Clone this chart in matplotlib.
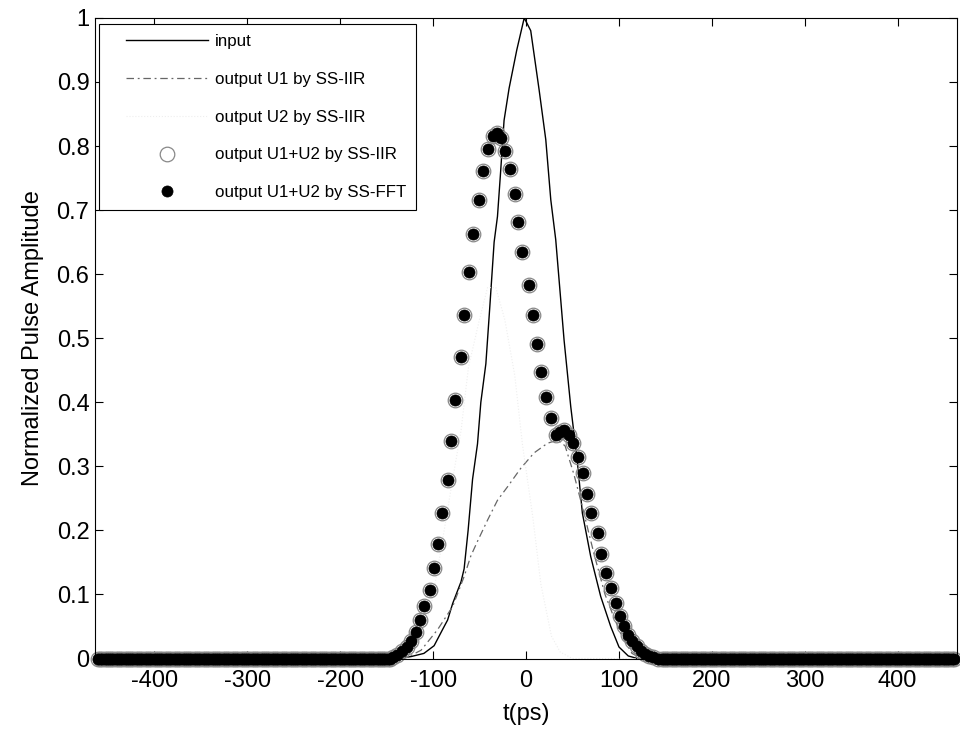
import matplotlib
matplotlib.use("Agg")
import matplotlib.pyplot as plt
from matplotlib.lines import Line2D
from matplotlib.legend_handler import HandlerLine2D
import numpy as np

plt.rcParams['font.family'] = ['Liberation Sans', 'DejaVu Sans']
plt.rcParams['axes.unicode_minus'] = False

# input pulse
t_in = [-463, -140, -124, -110, -99, -90, -84.5, -79, -70, -66.7, -62.4, -57.6,
        -52.3, -48.7, -43.3, -39, -34.4, -30.8, -27.4, -23.7, -18.3, -10, -2,
        5, 14, 21.2, 26.6, 31.9, 37.3, 40.9, 48.1, 55, 60.6, 69.6, 80.3, 91.1,
        100, 110, 120, 463]
v_in = [0, 0, 0.003, 0.008, 0.02, 0.045, 0.06, 0.086, 0.12, 0.14, 0.2, 0.28,
        0.335, 0.4, 0.46, 0.55, 0.65, 0.69, 0.76, 0.84, 0.89, 0.95, 1.0,
        0.98, 0.888, 0.81, 0.716, 0.654, 0.56, 0.497, 0.393, 0.31, 0.227, 0.159,
        0.097, 0.05, 0.018, 0.004, 0, 0]

# output U1 by SS-IIR
t_u1 = [-463, -140, -125, -113, -95.3, -79.1, -66.7, -59.5, -52.3, -41.5, -30.8,
        -20, -5.7, 8.6, 23, 33.8, 42, 51.6, 60, 73, 85, 93, 101.8, 114, 125, 463]
v_u1 = [0, 0, 0.004, 0.013, 0.045, 0.081, 0.128, 0.16, 0.183, 0.216, 0.247,
        0.268, 0.297, 0.321, 0.336, 0.341, 0.332, 0.287, 0.24, 0.164, 0.10, 0.07,
        0.039, 0.008, 0, 0]

# output U2 by SS-IIR (very faint in the original)
t_u2 = [-463, -135, -118, -103, -91, -81, -70, -62, -50.5, -41.5, -32.6, -22.9,
        -12.2, -3.9, 7.5, 15.8, 27.3, 36.8, 50, 463]
v_u2 = [0, 0, 0.03, 0.075, 0.175, 0.263, 0.356, 0.455, 0.527, 0.579, 0.579,
        0.529, 0.442, 0.334, 0.218, 0.117, 0.035, 0.01, 0, 0]

# output U1+U2 samples around the pulse
t_pulse = [-143, -138.5, -133.5, -128.5, -123.5, -118.6, -114.0, -109.7, -103.5,
           -98.9, -95.3, -91.0, -84.5, -81.0, -76.7, -70.2, -66.7, -61.9, -57.0,
           -50.5, -46.9, -41.5, -36.1, -31.0, -26.7, -22.4, -17.2, -12.2, -8.6,
           -3.9, 3.2, 7.5, 11.8, 15.8, 21.9, 27.3, 31.9, 36.8, 40.9, 46.2, 50.9,
           55.9, 61.7, 66.0, 69.6, 77.4, 81.1, 85.7, 91.1, 96.5, 101.1, 105.4,
           110, 114.5, 119, 123.5, 128, 132.5, 137, 141.5]
v_pulse = [0.003, 0.006, 0.011, 0.018, 0.028, 0.042, 0.060, 0.082, 0.107,
           0.141, 0.178, 0.227, 0.278, 0.340, 0.403, 0.471, 0.536, 0.603, 0.663,
           0.715, 0.761, 0.795, 0.815, 0.821, 0.812, 0.792, 0.764, 0.725, 0.681,
           0.634, 0.583, 0.536, 0.491, 0.447, 0.409, 0.375, 0.349, 0.354, 0.357,
           0.349, 0.336, 0.314, 0.289, 0.257, 0.227, 0.196, 0.163, 0.134, 0.110,
           0.087, 0.066, 0.050, 0.037, 0.027, 0.019, 0.012, 0.007, 0.004, 0.002, 0.0]
# flat baseline samples on either side (dense, drawn as a solid band)
t_left = np.arange(-461, -145, 2.4)
t_right = np.arange(146, 462, 2.4)
t_dots = np.concatenate([t_left, t_pulse, t_right])
v_dots = np.concatenate([np.zeros(len(t_left)), v_pulse, np.zeros(len(t_right))])

fig = plt.figure(figsize=(9.6, 7.33), dpi=100)
ax = fig.add_axes([0.099, 0.1016, 0.898, 0.874])

ax.plot(t_in, v_in, color='black', lw=1.0, label='input')
ax.plot(t_u1, v_u1, color='#666666', lw=0.9, ls=(0, (6, 3, 1.5, 3)),
        label='output U1 by SS-IIR')
ax.plot(t_u2, v_u2, color='#eeeeee', lw=0.8, ls=':', label='output U2 by SS-IIR')
ax.plot(t_dots, v_dots, ls='none', marker='o', ms=10.5, mfc='none', mec='#888888',
        mew=0.9, clip_on=False, label='output U1+U2 by SS-IIR')
ax.plot(t_dots, v_dots, ls='none', marker='o', ms=8, mfc='black', mec='black',
        mew=0.5, clip_on=False, label='output U1+U2 by SS-FFT')

ax.set_xlim(-464, 464)
ax.set_ylim(0, 1)
ax.set_xticks(np.arange(-400, 401, 100))
ax.set_yticks(np.arange(0, 1.01, 0.1))
ax.set_yticklabels(['0', '0.1', '0.2', '0.3', '0.4', '0.5', '0.6', '0.7', '0.8', '0.9', '1'])
ax.tick_params(direction='in', top=True, right=True, length=6, width=0.8,
               labelsize=17, pad=4)
ax.tick_params(axis='x', pad=8)
for s in ax.spines.values():
    s.set_linewidth(0.8)

ax.set_xlabel('t(ps)', fontsize=17, labelpad=8)
ax.set_ylabel('Normalized Pulse Amplitude', fontsize=17, labelpad=9)

leg = ax.legend(loc='upper left', bbox_to_anchor=(0.005, 0.991), borderaxespad=0,
                fontsize=12.2, handlelength=5.8, handletextpad=0.4, labelspacing=1.35,
                borderpad=0.6, fancybox=False, framealpha=1, edgecolor='black',
                handler_map={Line2D: HandlerLine2D(xpad=1.0)})
leg.get_frame().set_linewidth(0.8)

fig.savefig('out.png', dpi=100)
